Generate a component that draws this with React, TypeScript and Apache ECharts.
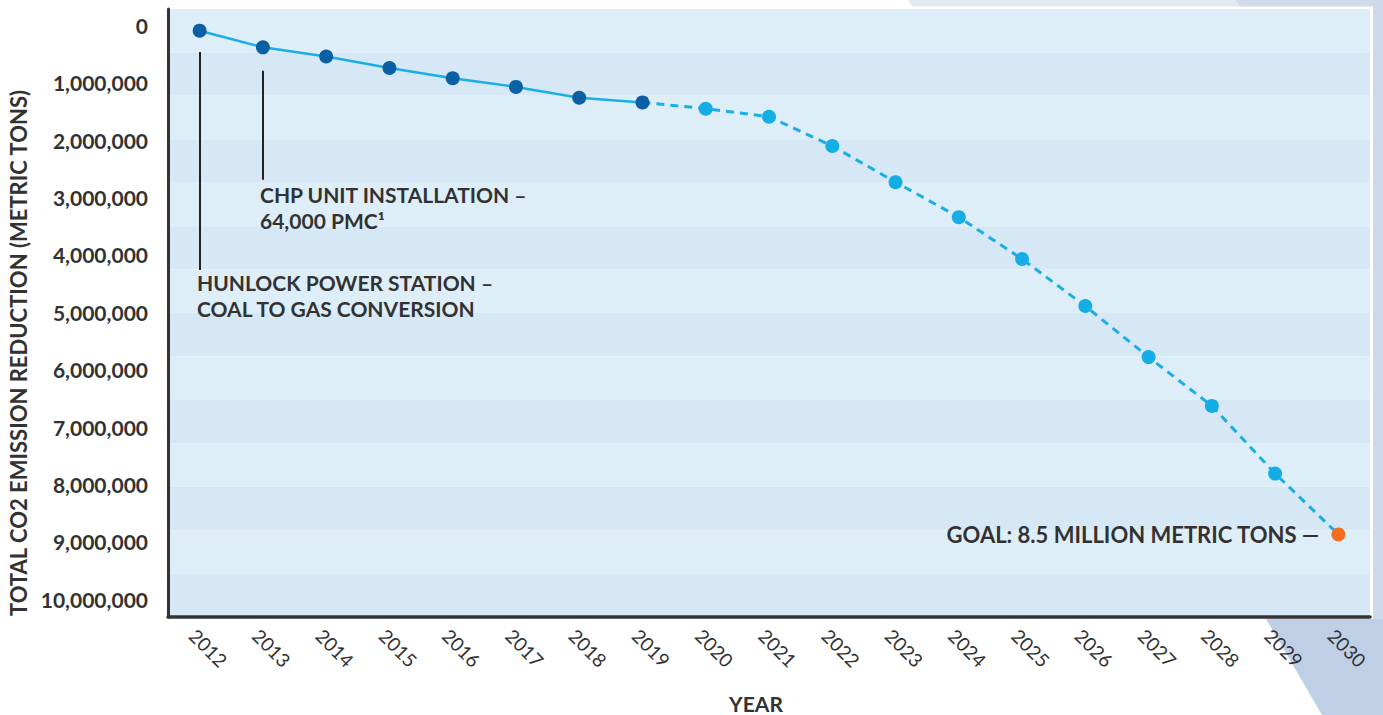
import React, { useEffect, useRef } from "react";
import * as echarts from "echarts";

const years = [
  "2012", "2013", "2014", "2015", "2016", "2017", "2018", "2019", "2020", "2021",
  "2022", "2023", "2024", "2025", "2026", "2027", "2028", "2029", "2030",
];
// Actual reductions 2012–2019 (metric tons)
const actualValues = [90000, 380000, 540000, 740000, 920000, 1070000, 1260000, 1340000];
// Projected reductions 2019–2030 (metric tons)
const projectedValues = [
  1340000, 1450000, 1590000, 2100000, 2730000, 3340000, 4070000, 4890000, 5780000, 6630000,
  7810000, 8870000,
];
const yTickValues = [0, 1000000, 2000000, 3000000, 4000000, 5000000, 6000000, 7000000, 8000000, 9000000, 10000000];

const goalLabel = "GOAL: 8.5 MILLION METRIC TONS —";
const hunlockLines = ["HUNLOCK POWER STATION –", "COAL TO GAS CONVERSION"];
const chpLines = ["CHP UNIT INSTALLATION –", "64,000 PMC¹"];
// leader lines: [year, from value, to value]
const hunlockLeader: [string, number, number] = ["2012", 460000, 4260000];
const chpLeader: [string, number, number] = ["2013", 790000, 2690000];

const TEXT = "#333233";
const FONT = "Lato";

export default function App() {
  const ref = useRef<HTMLDivElement>(null);

  useEffect(() => {
    if (!ref.current) return;
    const chart = echarts.init(ref.current, null, { renderer: "svg" });

    const firstProj = years.indexOf("2019");
    const actualData = years.map((_, i) => (i < actualValues.length ? actualValues[i] : "-"));
    const projData: any[] = years.map((_, i) => {
      const k = i - firstProj;
      if (k < 0) return "-";
      const v = projectedValues[k];
      if (k === 0) return { value: v, symbol: "none" };
      if (k === projectedValues.length - 1)
        return {
          value: v,
          itemStyle: { color: "#f26f21" },
          label: {
            show: true,
            position: "left",
            distance: 12,
            formatter: goalLabel,
            fontFamily: FONT,
            fontSize: 22,
            fontWeight: "bold",
            color: TEXT,
          },
        };
      return v;
    });

    const textEl = (text: string, x: number, y: number, align: string, extra: any = {}) => ({
      type: "text",
      x,
      y,
      z: 10,
      ...extra,
      style: {
        text,
        font: `bold ${extra.size || 21}px ${FONT}`,
        fill: TEXT,
        lineHeight: 26,
        align,
        verticalAlign: "middle",
        textAlign: align,
        textVerticalAlign: "middle",
      },
    });

    const option: any = {
      animation: false,
      grid: { left: 168, right: 13, top: 9, bottom: 98, containLabel: false },
      xAxis: {
        type: "category",
        data: years,
        boundaryGap: true,
        position: "bottom",
        z: 1,
        axisLine: { show: true, onZero: false, lineStyle: { color: "#333", width: 3.5 } },
        axisTick: { show: false },
        splitLine: { show: false },
        axisLabel: {
          rotate: -45,
          align: "center",
          verticalAlign: "middle",
          padding: [0, 0, 0, 25],
          margin: 22,
          fontFamily: FONT,
          fontSize: 19,
          color: TEXT,
          interval: 0,
        },
      },
      yAxis: [
        {
          type: "value",
          inverse: true,
          min: -288000,
          max: 10310000,
          z: 1,
          axisLine: { show: true, lineStyle: { color: "#333", width: 3 } },
          axisTick: { show: false },
          splitLine: { show: false },
          axisLabel: {
            customValues: yTickValues,
            formatter: (v: number) => v.toLocaleString("en-US"),
            margin: 20,
            fontFamily: FONT,
            fontSize: 21,
            fontWeight: "bold",
            color: TEXT,
          },
        },
        {
          type: "value",
          inverse: true,
          min: 0,
          max: 14,
          interval: 1,
          position: "right",
          z: 0,
          axisLine: { show: false },
          axisTick: { show: false },
          axisLabel: { show: false },
          splitLine: { show: false },
          splitArea: { show: true, areaStyle: { color: ["#deeef9", "#d6e8f6"] } },
        },
      ],
      series: [
        {
          name: "Actual",
          type: "line",
          data: actualData,
          z: 4,
          symbol: "circle",
          symbolSize: 14,
          lineStyle: { color: "#1aaee6", width: 2.5 },
          itemStyle: { color: "#0b5fa5" },
          markLine: {
            silent: true,
            symbol: "none",
            label: { show: false },
            lineStyle: { color: "#222", width: 2, type: "solid" },
            data: [
              [
                { coord: [hunlockLeader[0], hunlockLeader[1]] },
                { coord: [hunlockLeader[0], hunlockLeader[2]] },
              ],
              [
                { coord: [chpLeader[0], chpLeader[1]] },
                { coord: [chpLeader[0], chpLeader[2]] },
              ],
            ],
          },
        },
        {
          name: "Projected",
          type: "line",
          data: projData,
          z: 3,
          symbol: "circle",
          symbolSize: 14,
          lineStyle: { color: "#1aaee6", width: 3, type: [8, 6] },
          itemStyle: { color: "#14ade5" },
        },
      ],
      graphic: {
        elements: [
          { type: "polygon", z: -10, shape: { points: [[908, 0], [912, 6.5], [1383, 6.5], [1383, 0]] }, style: { fill: "#e3e9f3" } },
          { type: "polygon", z: -9, shape: { points: [[1236, 0], [1240, 6.5], [1383, 6.5], [1383, 0]] }, style: { fill: "#d0dbeb" } },
          { type: "rect", z: -9, shape: { x: 1373, y: 0, width: 10, height: 715 }, style: { fill: "#cdd9eb" } },
          { type: "polygon", z: -8, shape: { points: [[1266, 619], [1322, 715], [1383, 715], [1383, 619]] }, style: { fill: "#bfcfe6" } },
          textEl("TOTAL CO2 EMISSION REDUCTION (METRIC TONS)", 18, 353, "center", { rotation: Math.PI / 2, size: 22 }),
          textEl("YEAR", 756, 703, "center", { size: 21 }),
          textEl(chpLines.join("\n"), 260, 207.5, "left"),
          textEl(hunlockLines.join("\n"), 197, 295.5, "left"),
        ],
      },
    };

    chart.setOption(option);
    return () => chart.dispose();
  }, []);

  return (
    <div
      ref={ref}
      style={{ position: "fixed", left: 0, top: 0, width: 1383, height: 715, background: "#ffffff" }}
    />
  );
}
